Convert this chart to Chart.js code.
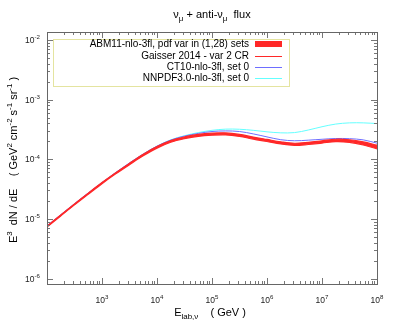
<!DOCTYPE html>
<html lang="en">
<head>
    <meta charset="UTF-8">
    <title>nu_mu + anti-nu_mu flux</title>
    <script src="https://cdn.jsdelivr.net/npm/chart.js"></script>
    <style>
        body { margin: 0; background: #fff; }
        canvas { display: block; }
    </style>
</head>
<body>
    <canvas id="fluxChart" width="395" height="335"></canvas>

    <script>
        // energies (GeV), quarter-decade steps
        const energies = [100, 177.8, 316.2, 562.3, 1000, 1778, 3162, 5623, 1e4, 17783, 31623, 56234,
            1e5, 177828, 316228, 562341, 1e6, 1.778e6, 3.162e6, 5.623e6, 1e7, 1.778e7, 3.162e7, 5.623e7, 1e8];

        // E^3 dN/dE, GeV^2 cm^-2 s^-1 sr^-1
        const abmUpper = [7.55e-6, 1.164e-5, 1.782e-5, 2.704e-5, 4.064e-5, 5.957e-5, 8.531e-5, 1.208e-4, 1.633e-4,
            2.061e-4, 2.371e-4, 2.606e-4, 2.735e-4, 2.767e-4, 2.612e-4, 2.355e-4, 2.148e-4, 1.963e-4, 1.854e-4,
            1.919e-4, 2.037e-4, 2.163e-4, 2.123e-4, 1.954e-4, 1.718e-4];
        const abmLower = [7.28e-6, 1.122e-5, 1.718e-5, 2.594e-5, 3.899e-5, 5.689e-5, 8.110e-5, 1.143e-4, 1.538e-4,
            1.932e-4, 2.213e-4, 2.421e-4, 2.529e-4, 2.559e-4, 2.415e-4, 2.178e-4, 1.986e-4, 1.807e-4, 1.706e-4,
            1.766e-4, 1.866e-4, 1.972e-4, 1.919e-4, 1.734e-4, 1.496e-4];
        const gaisser = [7.41e-6, 1.143e-5, 1.750e-5, 2.649e-5, 3.981e-5, 5.821e-5, 8.318e-5, 1.175e-4, 1.585e-4,
            1.995e-4, 2.291e-4, 2.512e-4, 2.630e-4, 2.661e-4, 2.512e-4, 2.265e-4, 2.065e-4, 1.884e-4, 1.778e-4,
            1.841e-4, 1.950e-4, 2.065e-4, 2.018e-4, 1.841e-4, 1.603e-4];
        const ct10 = [7.67e-6, 1.175e-5, 1.799e-5, 2.723e-5, 4.074e-5, 5.998e-5, 8.670e-5, 1.225e-4, 1.660e-4,
            2.099e-4, 2.443e-4, 2.710e-4, 2.917e-4, 2.985e-4, 2.917e-4, 2.661e-4, 2.371e-4, 2.128e-4, 2.042e-4,
            2.089e-4, 2.163e-4, 2.228e-4, 2.213e-4, 2.113e-4, 1.862e-4];
        const nnpdf = [7.59e-6, 1.161e-5, 1.778e-5, 2.692e-5, 4.027e-5, 5.943e-5, 8.610e-5, 1.219e-4, 1.660e-4,
            2.113e-4, 2.483e-4, 2.799e-4, 3.055e-4, 3.199e-4, 3.184e-4, 3.055e-4, 2.884e-4, 2.773e-4, 2.799e-4,
            3.090e-4, 3.508e-4, 3.890e-4, 4.074e-4, 4.074e-4, 3.963e-4];

        const xDecades = [2, 3, 4, 5, 6, 7, 8];
        const yDecades = [-6, -5, -4, -3, -2];
        const xLabelDecades = [3, 4, 5, 6, 7, 8];

        const legendLabels = [
            'ABM11-nlo-3fl, pdf var in (1,28) sets',
            'Gaisser 2014 - var 2 CR',
            'CT10-nlo-3fl, set 0',
            'NNPDF3.0-nlo-3fl, set 0'
        ];

        const RED = 'rgb(255,40,40)';
        const BLUE = 'rgb(110,110,255)';
        const CYAN = 'rgb(100,255,255)';
        const FONT = '"Liberation Sans", Arial, sans-serif';

        const pts = arr => energies.map((e, i) => ({ x: e, y: arr[i] }));

        // text with super/subscripts: parts = [[text, 'n'|'sup'|'sub'], ...]
        function richWidth(ctx, parts, size) {
            let w = 0;
            for (const [t, k] of parts) {
                ctx.font = (k === 'n' ? size : size * 0.72) + 'px ' + FONT;
                w += ctx.measureText(t).width;
            }
            return w;
        }
        function drawRich(ctx, parts, x, y, size, align) {
            const w = richWidth(ctx, parts, size);
            let cx = align === 'center' ? x - w / 2 : align === 'right' ? x - w : x;
            ctx.textAlign = 'left';
            ctx.textBaseline = 'alphabetic';
            for (const [t, k] of parts) {
                const s = k === 'n' ? size : size * 0.72;
                ctx.font = s + 'px ' + FONT;
                const dy = k === 'sup' ? -size * 0.42 : k === 'sub' ? size * 0.25 : 0;
                ctx.fillText(t, cx, y + dy);
                cx += ctx.measureText(t).width;
            }
        }

        const framePlugin = {
            id: 'frame',
            afterDraw(chart) {
                const ctx = chart.ctx;
                const a = chart.chartArea;
                const xs = chart.scales.x, ys = chart.scales.y;
                ctx.save();

                // ticks, inward on all four sides
                ctx.strokeStyle = '#777';
                ctx.lineWidth = 1;
                ctx.beginPath();
                for (const d of xDecades) {
                    for (let m = 1; m <= 9; m++) {
                        const v = m * Math.pow(10, d);
                        if (v < xs.min || v > xs.max) continue;
                        const px = Math.round(xs.getPixelForValue(v)) + 0.5;
                        const len = m === 1 ? 6 : 3;
                        ctx.moveTo(px, a.bottom); ctx.lineTo(px, a.bottom - len);
                        ctx.moveTo(px, a.top); ctx.lineTo(px, a.top + len);
                    }
                }
                for (const d of yDecades) {
                    for (let m = 1; m <= 9; m++) {
                        const v = m * Math.pow(10, d);
                        if (v < ys.min || v > ys.max) continue;
                        const py = Math.round(ys.getPixelForValue(v)) + 0.5;
                        const len = m === 1 ? 6 : 3;
                        ctx.moveTo(a.left, py); ctx.lineTo(a.left + len, py);
                        ctx.moveTo(a.right, py); ctx.lineTo(a.right - len, py);
                    }
                }
                ctx.stroke();

                // frame
                ctx.strokeStyle = '#666';
                ctx.strokeRect(Math.round(a.left) + 0.5, Math.round(a.top) + 0.5,
                    Math.round(a.right - a.left), Math.round(a.bottom - a.top));

                // tick labels
                ctx.fillStyle = '#222';
                for (const d of xLabelDecades) {
                    const px = xs.getPixelForValue(Math.pow(10, d));
                    drawRich(ctx, [['10', 'n'], [String(d), 'sup']], px, a.bottom + 19, 8.5, 'center');
                }
                for (const d of yDecades) {
                    const py = ys.getPixelForValue(Math.pow(10, d));
                    drawRich(ctx, [['10', 'n'], [String(d), 'sup']], a.left - 7, py + 3, 8.5, 'right');
                }

                // title and axis titles
                ctx.fillStyle = '#000';
                const cx = (a.left + a.right) / 2;
                drawRich(ctx, [['ν', 'n'], ['μ', 'sub'], [' + anti-ν', 'n'], ['μ', 'sub'], ['  flux', 'n']],
                    cx, 18, 11, 'center');
                drawRich(ctx, [['E', 'n'], ['lab,ν', 'sub'], ['    ( GeV )', 'n']], cx - 2, 316, 11, 'center');
                ctx.save();
                ctx.translate(17, (a.top + a.bottom) / 2 + 2);
                ctx.rotate(-Math.PI / 2);
                drawRich(ctx, [['E', 'n'], ['3', 'sup'], ['  dN / dE    ( GeV', 'n'], ['2', 'sup'], [' cm', 'n'],
                    ['-2', 'sup'], [' s', 'n'], ['-1', 'sup'], [' sr', 'n'], ['-1', 'sup'], [' )', 'n']],
                    0, 0, 11, 'center');
                ctx.restore();

                // legend
                const bx = 53, by = 39, bw = 236, bh = 47;
                ctx.strokeStyle = 'rgb(228,228,160)';
                ctx.strokeRect(bx + 0.5, by + 0.5, bw, bh);
                ctx.font = '10px ' + FONT;
                ctx.textAlign = 'right';
                ctx.textBaseline = 'middle';
                const rowY = [44, 56, 67, 78];
                const sx0 = 255, sx1 = 282;
                legendLabels.forEach((t, i) => {
                    ctx.fillStyle = '#000';
                    ctx.fillText(t, 249, rowY[i]);
                });
                ctx.fillStyle = RED;
                ctx.fillRect(sx0, rowY[0] - 3, sx1 - sx0, 6);
                [[RED, 1], [BLUE, 2], [CYAN, 3]].forEach(([c, i]) => {
                    ctx.strokeStyle = c;
                    ctx.beginPath();
                    ctx.moveTo(sx0, rowY[i] + 0.5);
                    ctx.lineTo(sx1, rowY[i] + 0.5);
                    ctx.stroke();
                });
                ctx.restore();
            }
        };

        const line = (data, color, width, extra) => Object.assign({
            data: pts(data),
            borderColor: color,
            borderWidth: width,
            pointRadius: 0,
            fill: false,
            tension: 0.35
        }, extra || {});

        new Chart(document.getElementById('fluxChart').getContext('2d'), {
            type: 'line',
            data: {
                datasets: [
                    line(nnpdf, CYAN, 1, { label: legendLabels[3], order: 4 }),
                    line(ct10, BLUE, 1, { label: legendLabels[2], order: 3 }),
                    line(abmLower, RED, 1.2, { label: 'ABM11 lower', order: 2 }),
                    line(abmUpper, RED, 1.2, { label: legendLabels[0], order: 1, fill: '-1', backgroundColor: RED }),
                    line(gaisser, RED, 1, { label: legendLabels[1], order: 0 })
                ]
            },
            options: {
                responsive: false,
                devicePixelRatio: 1,
                animation: false,
                layout: { padding: { left: 47, right: 18, top: 32, bottom: 51 } },
                scales: {
                    x: { type: 'logarithmic', min: 100, max: 1e8, display: false },
                    y: { type: 'logarithmic', min: 8.1e-7, max: 1.36e-2, display: false }
                },
                plugins: {
                    legend: { display: false },
                    tooltip: { enabled: false }
                }
            },
            plugins: [framePlugin]
        });
    </script>
</body>
</html>
